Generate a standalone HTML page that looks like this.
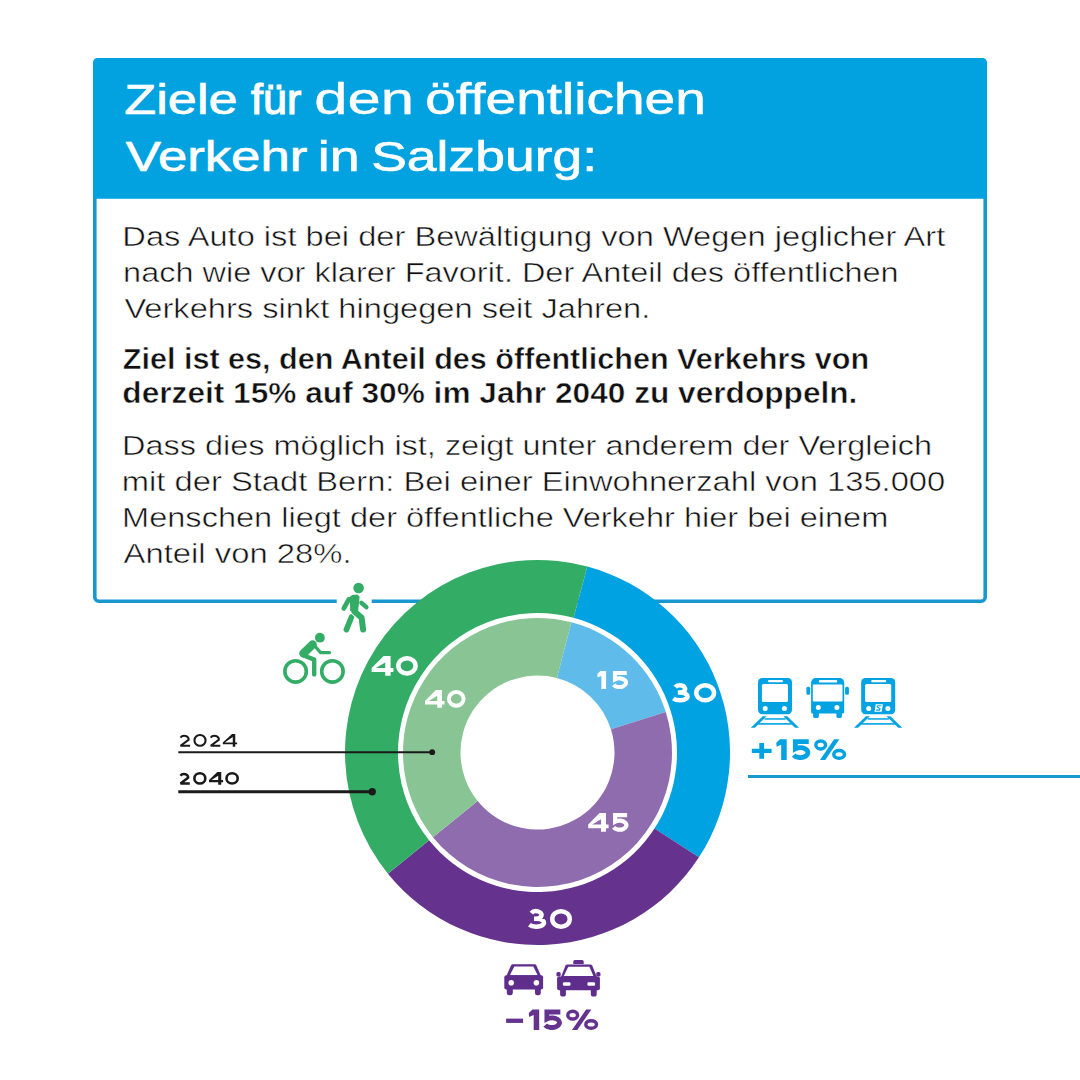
<!DOCTYPE html><html><head><meta charset="utf-8"><style>html,body{margin:0;padding:0;background:#fff;width:1080px;height:1080px;overflow:hidden}svg{display:block}text{font-family:"Liberation Sans",sans-serif}</style></head><body>
<svg width="1080" height="1080" viewBox="0 0 1080 1080">
<rect x="94.80" y="59.80" width="890.40" height="541.40" rx="4" fill="#fff" stroke="#1898cf" stroke-width="3.6"/>
<path d="M93 198.8V63Q93 58 98 58H982Q987 58 987 63V198.8Z" fill="#02a2e1"/>
<text x="124.30" y="114.04" font-size="43.29" font-weight="normal" fill="#fff" textLength="113.26" lengthAdjust="spacingAndGlyphs" stroke="#fff" stroke-width="0.72">Ziele</text>
<text x="251.10" y="113.80" font-size="42.57" font-weight="normal" fill="#fff" textLength="50.11" lengthAdjust="spacingAndGlyphs" stroke="#fff" stroke-width="1.21">für</text>
<text x="314.36" y="114.23" font-size="43.84" font-weight="normal" fill="#fff" textLength="99.75" lengthAdjust="spacingAndGlyphs" stroke="#fff" stroke-width="0.34">den</text>
<text x="425.37" y="114.12" font-size="43.5" font-weight="normal" fill="#fff" textLength="280.41" lengthAdjust="spacingAndGlyphs" stroke="#fff" stroke-width="0.57">öffentlichen</text>
<text x="125.71" y="171.06" font-size="43.33" font-weight="normal" fill="#fff" textLength="181.52" lengthAdjust="spacingAndGlyphs" stroke="#fff" stroke-width="0.69">Verkehr</text>
<text x="317.83" y="171.08" font-size="43.39" font-weight="normal" fill="#fff" textLength="41.84" lengthAdjust="spacingAndGlyphs" stroke="#fff" stroke-width="0.65">in</text>
<text x="371.20" y="171.08" font-size="43.39" font-weight="normal" fill="#fff" textLength="225.86" lengthAdjust="spacingAndGlyphs" stroke="#fff" stroke-width="0.65">Salzburg:</text>
<text x="122.37" y="246.05" font-size="27.76" font-weight="normal" fill="#111" textLength="822.92" lengthAdjust="spacingAndGlyphs" stroke="#fff" stroke-width="0.5">Das Auto ist bei der Bewältigung von Wegen jeglicher Art</text>
<text x="123.09" y="281.95" font-size="27.76" font-weight="normal" fill="#111" textLength="775.57" lengthAdjust="spacingAndGlyphs" stroke="#fff" stroke-width="0.5">nach wie vor klarer Favorit. Der Anteil des öffentlichen</text>
<text x="124.41" y="318.05" font-size="27.76" font-weight="normal" fill="#111" textLength="525.92" lengthAdjust="spacingAndGlyphs" stroke="#fff" stroke-width="0.5">Verkehrs sinkt hingegen seit Jahren.</text>
<text x="122.74" y="369.05" font-size="28.92" font-weight="bold" fill="#111" textLength="746.41" lengthAdjust="spacingAndGlyphs" stroke="#fff" stroke-width="0.5">Ziel ist es, den Anteil des öffentlichen Verkehrs von</text>
<text x="122.35" y="403.05" font-size="28.92" font-weight="bold" fill="#111" textLength="735.08" lengthAdjust="spacingAndGlyphs" stroke="#fff" stroke-width="0.5">derzeit 15% auf 30% im Jahr 2040 zu verdoppeln.</text>
<text x="122.09" y="455.25" font-size="27.76" font-weight="normal" fill="#111" textLength="809.87" lengthAdjust="spacingAndGlyphs" stroke="#fff" stroke-width="0.5">Dass dies möglich ist, zeigt unter anderem der Vergleich</text>
<text x="121.88" y="491.25" font-size="27.76" font-weight="normal" fill="#111" textLength="823.35" lengthAdjust="spacingAndGlyphs" stroke="#fff" stroke-width="0.5">mit der Stadt Bern: Bei einer Einwohnerzahl von 135.000</text>
<text x="122.08" y="527.05" font-size="27.76" font-weight="normal" fill="#111" textLength="766.22" lengthAdjust="spacingAndGlyphs" stroke="#fff" stroke-width="0.5">Menschen liegt der öffentliche Verkehr hier bei einem</text>
<text x="123.59" y="563.05" font-size="27.76" font-weight="normal" fill="#111" textLength="227.96" lengthAdjust="spacingAndGlyphs" stroke="#fff" stroke-width="0.5">Anteil von 28%.</text>
<path d="M587.32 566.56A192.50 192.50 0 0 1 698.94 857.34L654.49 828.48A139.50 139.50 0 0 0 573.61 617.75Z" fill="#01a2e1"/>
<path d="M698.94 857.34A192.50 192.50 0 0 1 387.90 873.64L429.09 840.29A139.50 139.50 0 0 0 654.49 828.48Z" fill="#65338e"/>
<path d="M387.90 873.64A192.50 192.50 0 0 1 587.32 566.56L573.61 617.75A139.50 139.50 0 0 0 429.09 840.29Z" fill="#33ad66"/>
<path d="M571.40 622.34A134.50 134.50 0 0 1 665.77 712.06L610.94 729.35A77.00 77.00 0 0 0 556.91 677.99Z" fill="#5fbbea"/>
<path d="M665.77 712.06A134.50 134.50 0 0 1 432.97 837.14L477.66 800.96A77.00 77.00 0 0 0 610.94 729.35Z" fill="#8e6cae"/>
<path d="M432.97 837.14A134.50 134.50 0 0 1 571.40 622.34L556.91 677.99A77.00 77.00 0 0 0 477.66 800.96Z" fill="#89c594"/>
<g transform="translate(371.6 655.9) scale(0.19900)"><path d="M60.71 0H95.31V61.1H109.55V81H95.31V100H68.62V81H0V61.1ZM68.62 32.79V61.1H21.48Z" fill="#fff" fill-rule="evenodd"/></g>
<g transform="translate(396.1 655.9) scale(0.19900)"><ellipse cx="54.52" cy="50" rx="43.22" ry="38.69" fill="none" stroke="#fff" stroke-width="22.61"/></g>
<g transform="translate(671.1 683) scale(0.19600)"><path d="M21.28 21.3A26.68 18.51 0 1 1 44.84 48.5A39.09 20.01 0 1 1 11.69 79.11M34.35 48.5H44.84" fill="none" stroke="#fff" stroke-width="22.96" stroke-linejoin="miter" stroke-miterlimit="3"/></g>
<g transform="translate(694 683) scale(0.19600)"><ellipse cx="56.89" cy="50" rx="45.41" ry="38.52" fill="none" stroke="#fff" stroke-width="22.96"/></g>
<g transform="translate(527.1 908.9) scale(0.20100)"><path d="M21.04 21.09A27.01 18.65 0 1 1 44.9 48.5A39.43 20.15 0 1 1 11.45 79.33M34.39 48.5H44.9" fill="none" stroke="#fff" stroke-width="22.39" stroke-linejoin="miter" stroke-miterlimit="3"/></g>
<g transform="translate(550 908.9) scale(0.20100)"><ellipse cx="54.73" cy="50" rx="43.53" ry="38.81" fill="none" stroke="#fff" stroke-width="22.39"/></g>
<g transform="translate(425 690) scale(0.17800)"><path d="M60.93 0H95.31V61.22H109.55V81H95.31V100H68.79V81H0V61.22ZM68.79 32.58V61.22H21.35Z" fill="#fff" fill-rule="evenodd"/></g>
<g transform="translate(446.9 690) scale(0.17800)"><ellipse cx="52.53" cy="50" rx="41.29" ry="38.76" fill="none" stroke="#fff" stroke-width="22.47"/></g>
<g transform="translate(597.3 671) scale(0.18100)"><path d="M22.57 0H48.62V100H22.57V27L1.46 36L0 17L16.73 0Z" fill="#fff"/></g>
<g transform="translate(611.2 671) scale(0.18100)"><path d="M85.9 11.33H20.94V46.02A37.23 24.14 0 1 1 12.58 76.6" fill="none" stroke="#fff" stroke-width="22.65" stroke-linejoin="miter" stroke-miterlimit="3"/></g>
<g transform="translate(588.2 813.1) scale(0.18700)"><path d="M60.55 0H94.91V61.24H109.09V81H94.91V100H68.41V81H0V61.24ZM68.41 32.57V61.24H21.34Z" fill="#fff" fill-rule="evenodd"/></g>
<g transform="translate(611.2 813.1) scale(0.18700)"><path d="M85.11 11.23H20.75V46.01A36.88 24.2 0 1 1 12.47 76.67" fill="none" stroke="#fff" stroke-width="22.46" stroke-linejoin="miter" stroke-miterlimit="3"/></g>
<g transform="translate(179.4 734) scale(0.12800)"><path d="M8.94 28.07A33.59 25.08 0 0 1 71.46 45.05L9.02 91.8H83.59" fill="none" stroke="#1a1a1a" stroke-width="16.41" stroke-linejoin="miter" stroke-miterlimit="3"/></g>
<g transform="translate(193.4 734) scale(0.12800)"><ellipse cx="51.56" cy="50" rx="43.36" ry="41.8" fill="none" stroke="#1a1a1a" stroke-width="16.41"/></g>
<g transform="translate(209.6 734) scale(0.12800)"><path d="M8.94 28.07A33.59 25.08 0 0 1 71.46 45.05L9.02 91.8H83.59" fill="none" stroke="#1a1a1a" stroke-width="16.41" stroke-linejoin="miter" stroke-miterlimit="3"/></g>
<g transform="translate(222.8 734) scale(0.12800)"><path d="M72.09 0H97.2V66.56H111.72V81H97.2V100H77.84V81H0V66.56ZM77.84 23.79V66.56H15.59Z" fill="#1a1a1a" fill-rule="evenodd"/></g>
<g transform="translate(179.1 772) scale(0.12800)"><path d="M10.85 29.09A31.64 23.91 0 0 1 69.73 45.29L11.17 89.84H83.59" fill="none" stroke="#1a1a1a" stroke-width="20.31" stroke-linejoin="miter" stroke-miterlimit="3"/></g>
<g transform="translate(193.1 772) scale(0.12800)"><ellipse cx="52.73" cy="50" rx="42.58" ry="39.84" fill="none" stroke="#1a1a1a" stroke-width="20.31"/></g>
<g transform="translate(209 772) scale(0.12800)"><path d="M64.76 0H95.84V63.12H110.16V81H95.84V100H71.87V81H0V63.12ZM71.87 29.45V63.12H19.3Z" fill="#1a1a1a" fill-rule="evenodd"/></g>
<g transform="translate(225.2 772) scale(0.12800)"><ellipse cx="53.91" cy="50" rx="43.75" ry="39.84" fill="none" stroke="#1a1a1a" stroke-width="20.31"/></g>
<line x1="178.3" y1="752.2" x2="432.2" y2="752.2" stroke="#1a1a1a" stroke-width="2"/>
<circle cx="432.2" cy="752.2" r="2.9" fill="#1a1a1a"/>
<line x1="178.3" y1="791.8" x2="372.2" y2="791.8" stroke="#1a1a1a" stroke-width="3"/>
<circle cx="372.2" cy="791.8" r="3.7" fill="#1a1a1a"/>
<rect x="748" y="775" width="332" height="3" fill="#1898cf"/>
<g transform="translate(751.8 739.2) scale(0.20800)"><path d="M0 45.62H36.06V18.5H59.13V45.62H95.19V66.38H59.13V93.5H36.06V66.38H0Z" fill="#01a2e1"/></g>
<g transform="translate(776.3 739.2) scale(0.20800)"><path d="M23.46 0H50V100H23.46V27L1.5 36L0 17L17.46 0Z" fill="#01a2e1"/></g>
<g transform="translate(791 739.2) scale(0.20800)"><path d="M85.37 11.54H20.87V46.12A36.71 24 0 1 1 12.75 76.46" fill="none" stroke="#01a2e1" stroke-width="23.08" stroke-linejoin="miter" stroke-miterlimit="3"/></g>
<g transform="translate(814.1 739.2) scale(0.20800)"><ellipse cx="31.64" cy="27.5" rx="23.33" ry="19.19" fill="none" stroke="#01a2e1" stroke-width="16.62"/><ellipse cx="120.38" cy="73" rx="25.64" ry="18.69" fill="none" stroke="#01a2e1" stroke-width="16.62"/><path d="M96.11 0H121.49L53.59 100H28.2Z" fill="#01a2e1"/></g>
<g transform="translate(506.1 1009.6) scale(0.20300)"><path d="M0 44.36H83.74V65.64H0Z" fill="#65338e"/></g>
<g transform="translate(528.8 1009.6) scale(0.20300)"><path d="M24.04 0H51.23V100H24.04V27L1.54 36L0 17L17.89 0Z" fill="#65338e"/></g>
<g transform="translate(542.5 1009.6) scale(0.20300)"><path d="M87.92 11.82H21.48V46.15A37.87 23.82 0 1 1 13.07 76.27" fill="none" stroke="#65338e" stroke-width="23.65" stroke-linejoin="miter" stroke-miterlimit="3"/></g>
<g transform="translate(566.1 1009.6) scale(0.20300)"><ellipse cx="32.42" cy="27.5" rx="23.9" ry="18.99" fill="none" stroke="#65338e" stroke-width="17.02"/><ellipse cx="123.34" cy="73" rx="26.28" ry="18.49" fill="none" stroke="#65338e" stroke-width="17.02"/><path d="M98.48 0H124.49L54.91 100H28.9Z" fill="#65338e"/></g>
<rect x="336.7" y="597" width="35" height="8" fill="#fff"/>
<g fill="#33ad66" stroke="#33ad66" stroke-linecap="round" stroke-linejoin="round">
<circle cx="358.6" cy="588.0" r="5.3" stroke="none"/>
<path d="M351.6 616.8L346.4 629.6" fill="none" stroke-width="5.6"/>
<path d="M354.5 611.5L361.6 617.8L363.1 629.8" fill="none" stroke="#fff" stroke-width="7.8"/>
<path d="M354.5 611.5L361.6 617.8L363.1 629.6" fill="none" stroke-width="6"/>
<path d="M348.6 598.6L352.6 595.6L357.2 595.1L359 597L357.6 610.5L354 612.5L350.8 610.5L350.6 601.6Z" stroke-width="1.2"/>
<path d="M348.8 599.4L343.8 608.4" fill="none" stroke-width="4.8"/>
<path d="M361.4 602.8L366.4 607.2" fill="none" stroke-width="4.4"/>
</g>
<g fill="none" stroke="#33ad66" stroke-linecap="round" stroke-linejoin="round">
<circle cx="295.6" cy="671.4" r="10.7" stroke-width="3.6"/>
<circle cx="332.4" cy="671.4" r="10.7" stroke-width="3.6"/>
<path d="M303.4 653.4L312.6 644.4" stroke-width="8.4"/>
<path d="M314.2 645.2L320.6 652.6L329.6 652.6" stroke-width="3.2"/>
<path d="M303.2 655.2L314.2 659.6L314.2 674.4" stroke-width="4.4"/>
<circle cx="319.9" cy="637.7" r="4.9" fill="#33ad66" stroke="none"/>
</g>
<g fill="#03a2e2"><rect x="758.00" y="678.10" width="34" height="36.1" rx="4.2"/><rect x="761.90" y="683.90" width="26.1" height="18.1" rx="1.6" fill="#fff"/><rect x="768.00" y="680.10" width="15" height="2.2" rx="1.1" fill="#fff"/><circle cx="765.20" cy="708.40" r="2.5" fill="#fff"/><circle cx="784.40" cy="708.40" r="2.5" fill="#fff"/><path d="M762.70 716.20H766.60L754.90 727.80H750.80Z"/><path d="M783.30 716.20H787.20L799.10 727.80H795.00Z"/><rect x="764.50" y="718.20" width="21.2" height="1.5"/><rect x="758.20" y="723.10" width="33.6" height="1.6"/></g>
<g fill="#03a2e2"><rect x="861.20" y="678.10" width="34" height="36.1" rx="4.2"/><rect x="865.10" y="683.90" width="26.1" height="18.1" rx="1.6" fill="#fff"/><rect x="871.20" y="680.10" width="15" height="2.2" rx="1.1" fill="#fff"/><circle cx="868.70" cy="708.40" r="2.5" fill="#fff"/><circle cx="887.90" cy="708.40" r="2.5" fill="#fff"/><path d="M875.70 704.20H882.90L881.70 711.70H874.50Z" fill="#fff"/><path d="M881.30 705.80H877.90L877.10 706.90L880.10 708.80L879.30 710.10H876.10" fill="none" stroke="#03a2e2" stroke-width="1.1" stroke-linejoin="round"/><path d="M865.90 716.20H869.80L858.10 727.80H854.00Z"/><path d="M886.50 716.20H890.40L902.30 727.80H898.20Z"/><rect x="867.70" y="718.20" width="21.2" height="1.5"/><rect x="861.40" y="723.10" width="33.6" height="1.6"/></g>
<g fill="#03a2e2">
<path d="M811.10 711.90V682.50A4.4 4.4 0 0 1 815.50 678.10H839.80A4.4 4.4 0 0 1 844.20 682.50V711.90Q844.20 713.40 842.70 713.40H812.60Q811.10 713.40 811.10 711.90Z"/>
<rect x="812.80" y="684.50" width="29.7" height="16.9" rx="1" fill="#fff"/>
<rect x="818.90" y="680.10" width="18.3" height="2.5" rx="1.2" fill="#fff"/>
<circle cx="818.30" cy="707.60" r="2.5" fill="#fff"/>
<circle cx="836.90" cy="707.60" r="2.5" fill="#fff"/>
<rect x="806.40" y="686.70" width="3.8" height="8.1" rx="1.5"/>
<rect x="845.10" y="686.70" width="3.8" height="8.1" rx="1.5"/>
<path d="M813.10 712.10H818.90V716.30Q818.90 717.90 817.50 717.90H814.50Q813.10 717.90 813.10 716.30Z"/>
<path d="M836.40 712.10H841.90V716.30Q841.90 717.90 840.50 717.90H837.80Q836.40 717.90 836.40 716.30Z"/>
</g>
<g fill="#5f2d8c">
<path d="M512.8 964.3H534.6Q535.8 964.3 536.4 965.4L541 976H506.4L511 965.4Q511.6 964.3 512.8 964.3Z"/>
<path d="M514.3 966.4H533.3L537.7 975.2H509.9Z" fill="#fff"/>
<rect x="504.3" y="975.3" width="38.8" height="14.3" rx="2"/>
<circle cx="511.2" cy="982.8" r="2.8" fill="#fff"/>
<circle cx="536.4" cy="982.8" r="2.8" fill="#fff"/>
<path d="M506.8 989H512.8V993Q512.8 995.3 510.5 995.3H509.1Q506.8 995.3 506.8 993Z"/>
<path d="M535 989H540.8V993Q540.8 995.3 538.5 995.3H537.3Q535 995.3 535 993Z"/>
<path d="M573.3 963.9V961.6Q573.3 960.1 574.8 960.1H582.2Q583.7 960.1 583.7 961.6V963.9Z"/>
<path d="M567.3 964.5H590.4Q591.6 964.5 592.2 965.6L596.8 977H561L565.5 965.6Q566.1 964.5 567.3 964.5Z"/>
<path d="M568.3 966.8H589.4L593.4 975.9H563.8Z" fill="#fff"/>
<rect x="557.1" y="976.6" width="42.8" height="13.6" rx="2"/>
<rect x="556.4" y="972.1" width="4.3" height="4.4" rx="1.6"/>
<rect x="596.2" y="972.1" width="4.3" height="4.4" rx="1.6"/>
<rect x="562.9" y="982.3" width="7.6" height="3.5" rx="1.2" fill="#fff"/>
<rect x="587.4" y="982.3" width="7.7" height="3.5" rx="1.2" fill="#fff"/>
<path d="M560.1 989.8H565.9V994Q565.9 996.6 563.3 996.6H562.7Q560.1 996.6 560.1 994Z"/>
<path d="M590.8 989.8H596.7V994Q596.7 996.6 594.1 996.6H593.4Q590.8 996.6 590.8 994Z"/>
</g>
</svg></body></html>
